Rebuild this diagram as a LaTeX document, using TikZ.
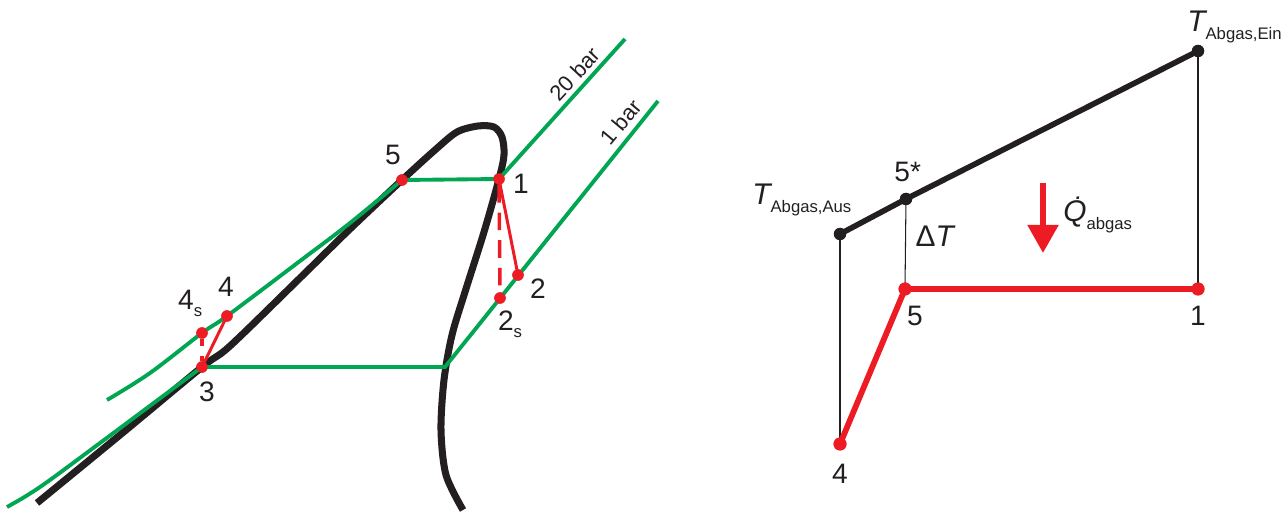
\documentclass[tikz,border=0pt]{standalone}
\usepackage{fontspec}
\setmainfont{Liberation Sans}
\usepackage{xcolor}
\usepackage{tikz}
\usetikzlibrary{arrows.meta,positioning}
\definecolor{gruen}{RGB}{0,166,81}
\definecolor{rot}{RGB}{237,28,36}
\definecolor{schwarz}{RGB}{35,31,32}
\newcommand{\tief}[1]{\raisebox{-4pt}{\fontsize{9.5}{11}\selectfont #1}}
\tikzset{
    punkt/.style={
        circle,
        inner sep=0pt,
        minimum size=6.5pt
    },
    punktRot/.style={punkt, fill=rot},
    punktRotGross/.style={punkt, fill=rot, minimum size=7.4pt},
    punktSchwarz/.style={punkt, fill=schwarz, minimum size=7pt},
    zahl/.style={inner sep=0pt, text=schwarz, font=\fontsize{16}{18}\selectfont},
    groesse/.style={inner sep=0pt, text=schwarz, font=\fontsize{17}{20}\selectfont},
    druck/.style={inner sep=0pt, text=schwarz, font=\fontsize{12.5}{14}\selectfont},
    sattdampf/.style={draw=schwarz, line width=4pt, line join=round},
    isobare/.style={draw=gruen, line width=2.2pt},
    prozess/.style={draw=rot, line width=1.7pt},
    prozessIdeal/.style={draw=rot, line width=2pt},
    prozessDick/.style={draw=rot, line width=3.3pt, line join=round},
    abgasLinie/.style={draw=schwarz, line width=3.2pt},
    hilfslinie/.style={draw=schwarz, line width=0.6pt},
    waerme/.style={-{Triangle[width=17pt,length=16pt]}, draw=rot, line width=3.4pt}
}

\begin{document}
\begin{tikzpicture}[x=0.02cm, y=-0.02cm]
    \useasboundingbox (0,0) rectangle (1286,513);

    % T-s Diagramm
    \node[punktRot] (p1) at (499,179) {};
    \node[punktRot] (p2) at (518,275) {};
    \node[punktRot] (p2s) at (500,298) {};
    \node[punktRot] (p3) at (202,367) {};
    \node[punktRot] (p4) at (227,316) {};
    \node[punktRot] (p4s) at (202,333) {};
    \node[punktRot] (p5) at (402,180) {};

    \draw[sattdampf] plot[smooth, tension=0.5] coordinates {(37,503) (120,435) (202,367) (230,346)
        (300,278) (350,229) (402,180) (435,150) (457,132) (478,126) (494,127) (502,137) (504,155)
        (499,179) (484,232) (465,292) (452,335) (444,380) (441,430) (446,475) (463,510)};

    \draw[isobare] plot[smooth, tension=0.6] coordinates {(107,400) (150,373) (202,333) (227,316)
        (300,261) (350,223) (402,180)} -- (p1.center) -- (625,39);
    \draw[isobare] plot[smooth, tension=0.6] coordinates {(7,507) (40,487) (100,443) (202,367)}
        -- (445,367) -- (658,101);

    \node[druck, rotate=47] (bar20) at (575,74) {20 bar};
    \node[druck, rotate=50] (bar1) at (621,122) {1 bar};

    \draw[prozess] (p1.center) -- (p2.center);
    \draw[prozessIdeal, dash pattern=on 10pt off 5.7pt] (p1.south) -- (p2s.north);
    \draw[prozess] (p3.center) -- (p4.center);
    \draw[prozessIdeal, dash pattern=on 4pt off 5.5pt] (p4s.south) -- (p3.north);

    \foreach \p in {p1,p2,p2s,p3,p4,p4s,p5}
        \node[punktRot] at (\p) {};

    \node[zahl, right=4.4pt of p1, yshift=-2.8pt] (l1) {1};
    \node[zahl, right=3.2pt of p2, yshift=-7.9pt] (l2) {2};
    \node[zahl, below=3.7pt of p2s, xshift=5.7pt] (l2s) {2\tief{s}};
    \node[zahl, below=4.8pt of p3, xshift=2.8pt] (l3) {3};
    \node[zahl, above=7.6pt of p4, xshift=-0.6pt] (l4) {4};
    \node[zahl, above=5.5pt of p4s, xshift=-6.7pt] (l4s) {4\tief{s}};
    \node[zahl, above=4.8pt of p5, xshift=-5.1pt] (l5) {5};

    % T-Q Diagramm
    \node[punktSchwarz] (a1) at (840,234) {};
    \node[punktSchwarz] (s5) at (906,199) {};
    \node[punktSchwarz] (e1) at (1198,51) {};
    \node[punktRotGross] (q4) at (840,444) {};
    \node[punktRotGross] (q5) at (905,289) {};
    \node[punktRotGross] (q1) at (1198,289) {};

    \draw[hilfslinie] (a1.center) -- (q4.center);
    \draw[hilfslinie] (s5.center) -- (q5.center);
    \draw[hilfslinie] (e1.center) -- (q1.center);
    \draw[abgasLinie] (a1.center) -- (s5.center) -- (e1.center);
    \draw[prozessDick] (q4.center) -- (q5.center) -- (q1.center);
    \foreach \p in {a1,s5,e1}
        \node[punktSchwarz] at (\p) {};
    \foreach \p in {q4,q5,q1}
        \node[punktRotGross] at (\p) {};

    \node[zahl, below=5.4pt of q1] (m1) {1};
    \node[zahl, below=5.4pt of q5, xshift=5.7pt] (m5) {5};
    \node[zahl, below=7.1pt of q4] (m4) {4};
    \node[zahl, above=5.7pt of s5, xshift=1pt] (m5s) {5*};
    \node[groesse, below right=12.4pt and 2.7pt of s5] (dT) {Δ{\itshape T}};
    \node[groesse, anchor=base west] (tein) at (1187,32) {{\itshape T}\tief{Abgas,Ein}};
    \node[groesse, anchor=base west] (taus) at (752,205) {{\itshape T}\tief{Abgas,Aus}};

    \coordinate (pfeilOben) at (1043,183);
    \coordinate (pfeilUnten) at (1043,253);
    \draw[waerme] (pfeilOben) -- (pfeilUnten);
    \node[groesse, anchor=base west] (qab) at (1063,222) {{\itshape\.{Q}}\tief{abgas}};
\end{tikzpicture}
\end{document}
